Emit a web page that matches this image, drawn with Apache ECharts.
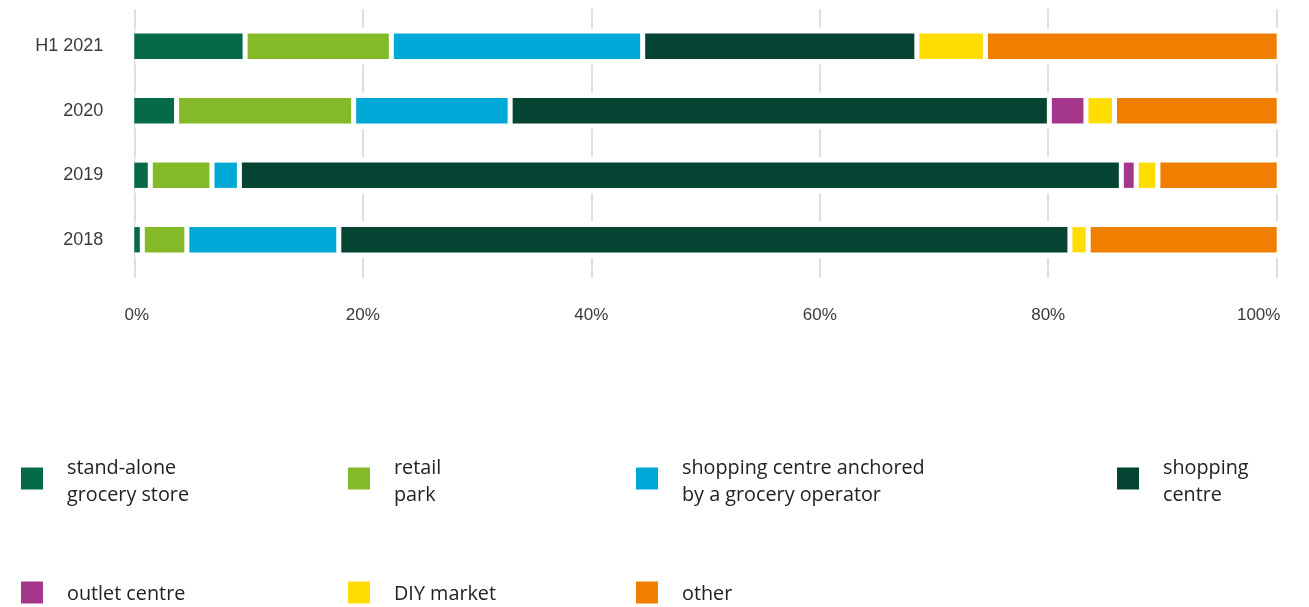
<!DOCTYPE html>
<html>
<head>
<meta charset="utf-8">
<title>Retail investment by property type</title>
<script src="https://cdn.jsdelivr.net/npm/echarts@6/dist/echarts.min.js"></script>
<style>
  html, body { margin: 0; padding: 0; background: #ffffff; }
  #chart { width: 1309px; height: 607px; }
</style>
</head>
<body>
<div id="chart"></div>
<script>
// Periods, bottom to top
const categories = ['2018', '2019', '2020', 'H1 2021'];

// Property types in stacking order
const seriesNames = [
  'stand-alone grocery store',
  'retail park',
  'shopping centre anchored by a grocery operator',
  'shopping centre',
  'outlet centre',
  'DIY market',
  'other'
];
const legendLabels = [
  ['stand-alone', 'grocery store'],
  ['retail', 'park'],
  ['shopping centre anchored', 'by a grocery operator'],
  ['shopping', 'centre'],
  ['outlet centre'],
  ['DIY market'],
  ['other']
];
const colors = ['#046a4a', '#84ba28', '#00a8d8', '#054432', '#a5378b', '#ffdd00', '#f07f00'];

// Share of volume (%), one value per period in the order of `categories`
const standAlone     = [0.7, 1.4, 3.7, 9.7];
const retailPark     = [3.9, 5.4, 15.5, 12.8];
const anchored       = [13.3, 2.4, 13.7, 22.0];
const shoppingCentre = [64.0, 77.2, 47.2, 24.0];
const outletCentre   = [0.0, 1.3, 3.2, 0.0];
const diyMarket      = [1.6, 1.9, 2.5, 6.0];
const other          = [16.5, 10.4, 14.2, 25.5];

const xTickValues = [0, 20, 40, 60, 80, 100];

const seriesValues = [standAlone, retailPark, anchored, shoppingCentre, outletCentre, diyMarket, other];

// Build [start, end, row, isFirst, isLast] items for each segment
const segmentData = seriesValues.map(() => []);
categories.forEach((cat, row) => {
  let acc = 0;
  const nonZero = seriesValues.map((vals, s) => vals[row] > 0 ? s : -1).filter(s => s >= 0);
  const first = nonZero[0], last = nonZero[nonZero.length - 1];
  seriesValues.forEach((vals, s) => {
    const v = vals[row];
    segmentData[s].push([acc, acc + v, row, s === first ? 1 : 0, s === last ? 1 : 0]);
    acc += v;
  });
});

const GAP = 5;           // white gap between adjacent segments
const BAR_RATIO = 0.392; // bar thickness relative to the category band
const HALO = 5.7;        // clearance kept free of grid lines around each bar

function renderSegment(params, api) {
  const start = api.value(0), end = api.value(1), row = api.value(2);
  if (end - start <= 0) return;
  const p0 = api.coord([start, row]);
  const p1 = api.coord([end, row]);
  const h = api.size([0, 1])[1] * BAR_RATIO;
  const x0 = p0[0] + (api.value(3) ? 0 : GAP / 2);
  const x1 = p1[0] - (api.value(4) ? 0 : GAP / 2);
  return {
    type: 'rect',
    shape: { x: x0, y: p0[1] - h / 2, width: Math.max(0, x1 - x0), height: h },
    style: { fill: api.visual('color') }
  };
}

// White band behind each bar that interrupts the vertical grid lines
function renderHalo(params, api) {
  const row = api.value(0);
  const p0 = api.coord([0, row]);
  const p1 = api.coord([100, row]);
  const h = api.size([0, 1])[1] * BAR_RATIO + HALO * 2;
  return {
    type: 'rect',
    shape: { x: p0[0] + 1, y: p0[1] - h / 2, width: p1[0] - p0[0] + 2, height: h },
    style: { fill: '#ffffff' }
  };
}

const axisFont = 'Liberation Sans';
const legendFont = 'Open Sans';
// [left, top, spacer above the label]
const legendPos = [
  [21, 451, 6], [348, 451, 6], [636, 451, 6], [1117, 451, 6],
  [21, 578.5, 4], [348, 578.5, 4], [636, 578.5, 4]
];

const chart = echarts.init(document.getElementById('chart'), null, { renderer: 'canvas' });

const option = {
  animation: false,
  backgroundColor: '#ffffff',
  grid: [
    { left: 134.3, right: 32.3, top: 9, height: 269, outerBoundsMode: 'none', containLabel: false },
    { left: 134.3, right: 32.3, top: 14, height: 258, outerBoundsMode: 'none', containLabel: false }
  ],
  xAxis: [
    {
      gridIndex: 0, type: 'value', min: 0, max: 100, interval: 20,
      axisLine: { show: false }, axisTick: { show: false },
      splitLine: { show: true, lineStyle: { color: '#d4d4d4', width: 1.5 } },
      axisLabel: {
        margin: 27,
        color: '#3a3a3a',
        fontFamily: axisFont,
        fontSize: 17,
        lineHeight: 20,
        formatter: (v) => {
          if (v === xTickValues[0]) return '{first|' + v + '%}';
          if (v === xTickValues[xTickValues.length - 1]) return '{last|' + v + '%}';
          return v + '%';
        },
        rich: {
          first: { fontFamily: axisFont, fontSize: 17, color: '#3a3a3a', padding: [0, 0, 0, 5] },
          last: { fontFamily: axisFont, fontSize: 17, color: '#3a3a3a', padding: [0, 36, 0, 0] }
        }
      }
    },
    {
      gridIndex: 1, type: 'value', min: 0, max: 100, show: false
    }
  ],
  yAxis: [
    { gridIndex: 0, type: 'value', show: false },
    {
      gridIndex: 1, type: 'category', data: categories,
      axisLine: { show: false }, axisTick: { show: false }, splitLine: { show: false },
      axisLabel: { margin: 31, color: '#3a3a3a', fontFamily: axisFont, fontSize: 18, padding: [3, 0, 0, 0] }
    }
  ],
  legend: seriesNames.map((name, i) => ({
    data: [name],
    left: legendPos[i][0],
    top: legendPos[i][1],
    padding: 0,
    icon: 'rect',
    itemWidth: 22,
    itemHeight: 22,
    selectedMode: false,
    formatter: () => '{s| }\n' + legendLabels[i].map(line => '{t|' + line + '}').join('\n'),
    textStyle: {
      fontFamily: legendFont,
      fontSize: 19.8,
      color: '#222222',
      padding: [0, 0, 0, 19],
      rich: {
        s: { fontSize: 1, lineHeight: legendPos[i][2] },
        t: { fontFamily: legendFont, fontSize: 19.8, lineHeight: 27, color: '#222222' }
      }
    }
  })),
  series: [
    {
      type: 'custom',
      name: 'halo',
      xAxisIndex: 1, yAxisIndex: 1,
      z: 1,
      silent: true,
      renderItem: renderHalo,
      encode: { y: 0 },
      data: categories.map((c, i) => [i])
    }
  ].concat(seriesNames.map((name, s) => ({
    type: 'custom',
    name: name,
    xAxisIndex: 1, yAxisIndex: 1,
    z: 2,
    itemStyle: { color: colors[s] },
    renderItem: renderSegment,
    encode: { x: [0, 1], y: 2 },
    data: segmentData[s]
  })))
};

chart.setOption(option);
</script>
</body>
</html>
